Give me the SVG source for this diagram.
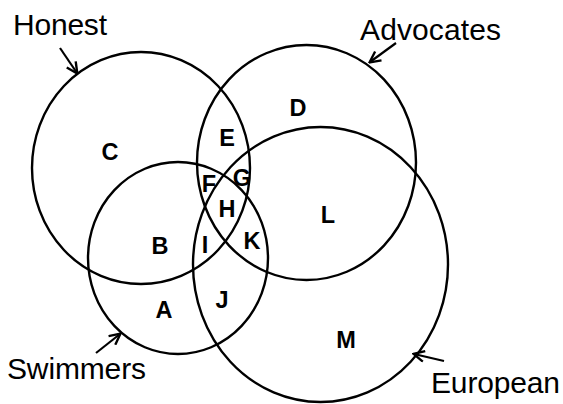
<svg xmlns="http://www.w3.org/2000/svg" width="563" height="404" viewBox="0 0 563 404">
<style>
.set{fill:none;stroke:#000;stroke-width:2.4}
.lbl{font-family:"Liberation Sans",Arial,sans-serif;font-size:30px;fill:#000}
.reg{font-family:"Liberation Sans",Arial,sans-serif;font-size:23.5px;font-weight:bold;fill:#000;text-anchor:middle}
.arr{fill:none;stroke:#000;stroke-width:2.2;marker-end:url(#ah)}
</style>
<defs>
<marker id="ah" viewBox="0 0 12 12" refX="10.5" refY="6" markerWidth="13" markerHeight="13" markerUnits="userSpaceOnUse" orient="auto">
<path d="M1,1 L11,6 L1,11" fill="none" stroke="#000" stroke-width="2.2"/>
</marker>
</defs>
<rect width="563" height="404" fill="#fff"/>
<g id="honest">
<ellipse class="set" cx="141" cy="168" rx="109" ry="116"/>
<text class="lbl" x="13" y="35" textLength="94">Honest</text>
</g>
<g id="advocates">
<ellipse class="set" cx="306.5" cy="162.5" rx="109.5" ry="117.5"/>
<text class="lbl" x="360" y="40" textLength="141">Advocates</text>
</g>
<g id="swimmers">
<ellipse class="set" cx="178" cy="258" rx="90" ry="96"/>
<text class="lbl" x="7" y="379" textLength="139">Swimmers</text>
</g>
<g id="european">
<ellipse class="set" cx="320.5" cy="264.5" rx="127.5" ry="137.5"/>
<text class="lbl" x="431" y="393" textLength="129">European</text>
</g>
<g id="regions">
<text class="reg" x="110" y="160">C</text>
<text class="reg" x="227" y="146">E</text>
<text class="reg" x="298" y="116">D</text>
<text class="reg" x="209" y="192">F</text>
<text class="reg" x="242" y="186">G</text>
<text class="reg" x="227" y="217">H</text>
<text class="reg" x="328" y="223">L</text>
<text class="reg" x="160" y="254">B</text>
<text class="reg" x="205" y="253">I</text>
<text class="reg" x="252" y="249">K</text>
<text class="reg" x="164" y="318">A</text>
<text class="reg" x="222" y="308">J</text>
<text class="reg" x="346" y="348">M</text>
</g>
<g id="connectors">
<path class="arr" d="M60,48 L77,73"/>
<path class="arr" d="M396,43 L370,62"/>
<path class="arr" d="M96,353 L120,334"/>
<path class="arr" d="M444,361 L414,354"/>
</g>
</svg>
